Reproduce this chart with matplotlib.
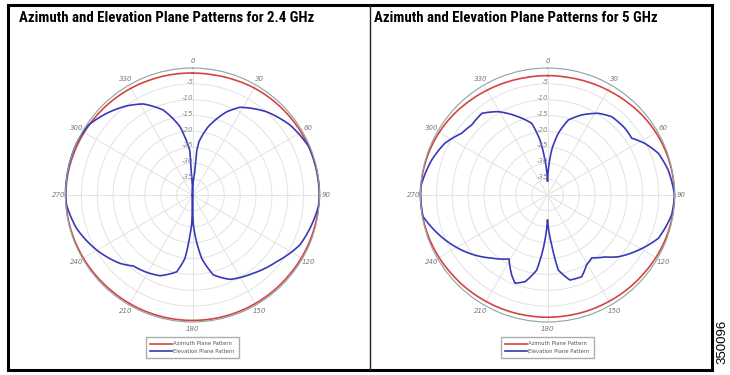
import numpy as np
import matplotlib
matplotlib.use("Agg")
from matplotlib import pyplot as plt
from matplotlib import font_manager
from matplotlib.lines import Line2D
from matplotlib.patches import Rectangle
from matplotlib.transforms import ScaledTranslation

# angle (deg, clockwise from top) / gain (dB)
az_ang = list(range(0, 360, 10)) + [360]
az_24 = [-1.6, -1.6, -1.4, -1.1, -0.9, -0.7, -0.5, -0.3, -0.2, -0.1,
         -0.2, -0.3, -0.4, -0.5, -0.5, -0.5, -0.5, -0.5, -0.5, -0.5,
         -0.5, -0.5, -0.5, -0.4, -0.3, -0.2, -0.1, -0.1, -0.2, -0.4,
         -0.6, -0.8, -1.0, -1.2, -1.4, -1.5, -1.6]
az_5 = [-2.4, -2.4, -2.2, -1.9, -1.5, -1.0, -0.6, -0.3, -0.1, 0.0,
        -0.1, -0.3, -0.6, -0.9, -1.1, -1.3, -1.4, -1.5, -1.5, -1.5,
        -1.4, -1.3, -1.1, -0.9, -0.6, -0.3, -0.1, 0.0, -0.1, -0.3,
        -0.6, -1.0, -1.5, -1.9, -2.2, -2.4, -2.4]

el_24_ang = [0, 5.5, 5.5, 7, 13, 22.3, 28.4, 41.7, 54.3, 67.6, 80, 90,
             94.5, 114.9, 128.4, 142.2, 156, 165.4, 171.7, 176.4, 178.5, 180,
             181.5, 183.6, 186.8, 191.6, 201.9, 210.6, 219.8, 226.7, 240.1,
             253.9, 265.5, 270, 282, 294.1, 303.9, 313.6, 323.5, 331.6, 341,
             349.6, 352, 356.5, 357, 360]
el_24 = [-40, -33, -26, -23, -17.9, -11.7, -8.6, -4.9, -2.2, -0.3, -0.1, 0,
         -0.1, -2.7, -6.2, -8.8, -10.9, -14, -19.8, -27.4, -31, -40,
         -31, -27.4, -19.9, -15.3, -12.6, -11.7, -10.9, -8.6, -5.2,
         -2.0, -0.2, 0, 0, 0, -0.5, -2.7, -5.1, -7.4, -11.7,
         -18.1, -21, -26, -33, -40]

el_5_ang = [0, 5.3, 9.9, 15.5, 23.1, 31.9, 39.4, 49.3, 56, 62.1, 69.4, 78.3,
            90, 99.1, 111.3, 121.2, 131.1, 137.2, 144.8, 150.8, 157.3, 165.2,
            171.8, 175.2, 180, 184, 188.2, 194.5, 200.2, 204.1, 211, 221.4,
            235.5, 246.3, 260.2, 270, 273.8, 286.8, 296.8, 305.7, 312.7,
            321.2, 329.4, 339.5, 347.6, 352.2, 355.9, 360]
el_5 = [-35.5, -25.8, -20.3, -15.5, -12.6, -9.7, -8.1, -7.8, -8.0, -5.3,
        -2.7, -1.2, 0, -0.4, -2.5, -6.5, -10.4, -13.4, -15.8, -14.8, -12.1,
        -12.3, -16.1, -24.2, -32.2, -24.2, -16.1, -11.8, -10.4, -12.4, -16.5,
        -13.5, -8.5, -4.8, -0.2, 0, 0, -1.9, -3.8, -6.7, -7.5, -7.0, -9.5,
        -13.7, -16.9, -22.5, -29, -35.5]

titles = ["Azimuth and Elevation Plane Patterns for 2.4 GHz",
          "Azimuth and Elevation Plane Patterns for 5 GHz"]
legend_labels = ["Azimuth Plane Pattern", "Elevation Plane Pattern"]
theta_ticks = list(range(0, 360, 30))
r_ticks = [-35, -30, -25, -20, -15, -10, -5, 0]

red = "#d4453f"
blue = "#3838b8"

W, H = 730, 375
fig = plt.figure(figsize=(7.3, 3.75), dpi=100)

# a narrow bold face for the titles if one is around
have = {f.name for f in font_manager.fontManager.ttflist}
title_font = "DejaVu Sans"
for name in ["Liberation Sans Narrow", "DejaVu Sans Condensed", "Roboto Condensed",
             "Open Sans Condensed", "Roboto", "Liberation Sans"]:
    if name in have:
        title_font = name
        break


def draw_panel(cx, az, el_ang, el, title, tx):
    R = 127
    ax = fig.add_axes([(cx - R) / W, (H - 195 - R) / H, 2 * R / W, 2 * R / H],
                      projection="polar")
    ax.set_theta_zero_location("N")
    ax.set_theta_direction(-1)
    ax.set_ylim(-40, 0)
    for vals, ang, col in [(az, az_ang, red), (el, el_ang, blue)]:
        ln, = ax.plot(np.radians(ang), vals, color=col, lw=1.2, clip_on=False)
        ln._path._interpolation_steps = 8   # draw segments as polar arcs
    ax.set_xticks(np.radians(theta_ticks))
    ax.set_xticklabels([str(t) for t in theta_ticks], fontsize=5,
                       color="#777777", style="italic")
    ax.tick_params(axis="x", pad=-2, length=0)
    ax.set_yticks(r_ticks)
    ax.set_yticklabels([])
    off = ScaledTranslation(0.5 / 72, 0, fig.dpi_scale_trans)
    for r in r_ticks[:-1]:
        ax.text(0, r + 0.6, str(r), fontsize=5, color="#888888", style="italic",
                ha="right", va="center", transform=ax.transData + off)
    ax.grid(color="#e2e2e2", lw=0.7)
    ax.spines["polar"].set_color("#8fa6a6")
    ax.spines["polar"].set_linewidth(0.8)
    handles = [Line2D([], [], color=red, lw=1.2), Line2D([], [], color=blue, lw=1.2)]
    fig.legend(handles, legend_labels, loc="center",
               bbox_to_anchor=(cx / W, (H - 347.5) / H), fontsize=3.8,
               frameon=True, fancybox=False, edgecolor="#999999",
               handlelength=4, handletextpad=0.3, borderpad=0.9,
               labelspacing=0.4, labelcolor="#555555")
    return fig.text(tx / W, (H - 18.5) / H, title, fontsize=10, fontweight="bold",
                    family=[title_font, "DejaVu Sans"], va="center")


t1 = draw_panel(192.5, az_24, el_24_ang, el_24, titles[0], 19)
t2 = draw_panel(547.5, az_5, el_5_ang, el_5, titles[1], 374)

# shrink the titles to the width they take in the reference
renderer = fig.canvas.get_renderer()
w1 = t1.get_window_extent(renderer).width
size = 10 * 296 / w1
t1.set_fontsize(size)
t2.set_fontsize(size)

# outer frame and divider
fig.add_artist(Rectangle((8 / W, (H - 370) / H), (712 - 8) / W, (370 - 5) / H,
                         transform=fig.transFigure, fill=False,
                         edgecolor="black", lw=2.2))
fig.add_artist(Line2D([370 / W, 370 / W], [(H - 370) / H, (H - 5) / H],
                      transform=fig.transFigure, color="#222222", lw=1.0))
fig.text(722 / W, (H - 342) / H, "350096", rotation=90, fontsize=9.5,
         family=["Liberation Sans", "DejaVu Sans"], ha="center", va="center")

fig.savefig("out.png", dpi=100)
